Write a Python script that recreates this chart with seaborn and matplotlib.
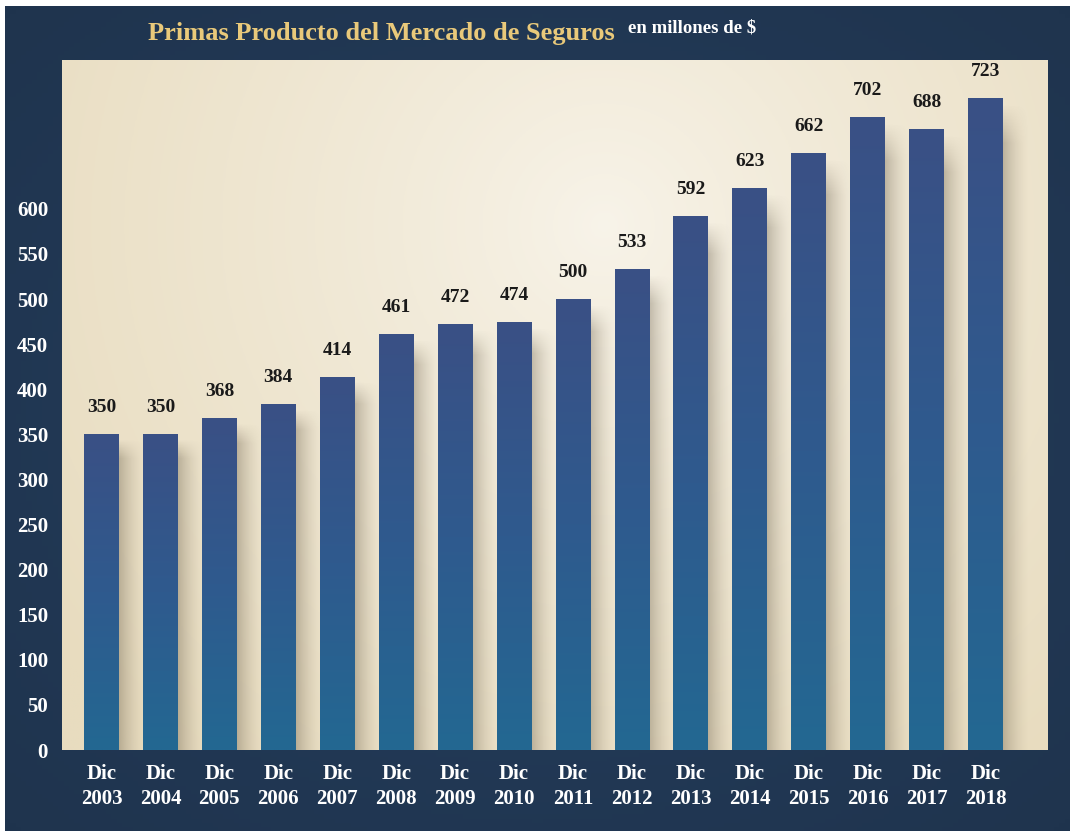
import numpy as np
import matplotlib
matplotlib.use("Agg")
import matplotlib.pyplot as plt
from matplotlib.colors import LinearSegmentedColormap
import seaborn as sns

# Data
years = ["2003", "2004", "2005", "2006", "2007", "2008", "2009", "2010",
         "2011", "2012", "2013", "2014", "2015", "2016", "2017", "2018"]
values = [350, 350, 368, 384, 414, 461, 472, 474, 500, 533, 592, 623, 662, 702, 688, 723]
tick_values = [0, 50, 100, 150, 200, 250, 300, 350, 400, 450, 500, 550, 600]
labels = ["Dic\n" + y for y in years]

sns.set_theme(style="white")
plt.rcParams["font.family"] = ["Liberation Serif", "DejaVu Serif"]
plt.rcParams["font.weight"] = "bold"

W, H = 1070, 831
fig = plt.figure(figsize=(W / 100, H / 100), dpi=100, facecolor="white")

# Navy background with a soft centre glow
bg = fig.add_axes([5 / W, 0, 1 - 5 / W, 1 - 6 / H])
bg.axis("off")
yy, xx = np.mgrid[0:1:200j, 0:1:200j]
r = np.sqrt((xx - 0.5) ** 2 + (yy - 0.5) ** 2) / 0.7
c_in = np.array([0x25, 0x3e, 0x5e]) / 255
c_out = np.array([0x1f, 0x34, 0x4e]) / 255
img = c_in[None, None, :] * (1 - r[..., None]) + c_out[None, None, :] * r[..., None]
bg.imshow(np.clip(img, 0, 1), extent=[0, 1, 0, 1], aspect="auto")
bg.set_xlim(0, 1)
bg.set_ylim(0, 1)

# Main axes
ax = fig.add_axes([62 / W, (H - 750) / H, 986 / W, 690 / H])

# Beige radial gradient for plot area
yy, xx = np.mgrid[1:0:300j, 0:1:300j]
r = np.sqrt(((xx - 0.55) * 1.43) ** 2 + (yy - 0.76) ** 2) / 1.0
r = np.clip(r, 0, 1) ** 0.8
c_in = np.array([0xf8, 0xf4, 0xea]) / 255
c_out = np.array([0xe8, 0xdc, 0xbf]) / 255
img = c_in[None, None, :] * (1 - r[..., None]) + c_out[None, None, :] * r[..., None]
ax.imshow(img, extent=[0, 1, 0, 1], transform=ax.transAxes, aspect="auto", zorder=0)

sns.barplot(x=labels, y=values, ax=ax, width=0.59, color="#2e5a8c",
            saturation=1, linewidth=0, zorder=3)

bar_cmap = LinearSegmentedColormap.from_list("bars", ["#236892", "#2f5a8e", "#3a5085"])
grad = np.linspace(0, 1, 256)[::-1].reshape(-1, 1)

# shadow: fades horizontally away from the bar and softly at the top
n_h, n_v = 64, 200
sx = np.linspace(1, 0, n_h) ** 1.6
sy = np.clip(np.linspace(0, 1, n_v) / 0.06, 0, 1)
shadow = np.zeros((n_v, n_h, 4))
shadow[..., 0] = 0.42
shadow[..., 1] = 0.38
shadow[..., 2] = 0.30
shadow[..., 3] = 0.38 * sy[:, None] * sx[None, :]

for patch, v in zip(ax.patches, values):
    x0 = patch.get_x()
    x1 = x0 + patch.get_width()
    h = patch.get_height()
    ax.imshow(shadow, extent=[x1, x1 + 0.45, 0, h - 6], aspect="auto",
              origin="upper", zorder=2)
    im = ax.imshow(grad, extent=[x0, x1, 0, h], aspect="auto", cmap=bar_cmap,
                   zorder=4)
    im.set_clip_path(patch)
    ax.annotate(f"{v}", (x0 + patch.get_width() / 2, h), xytext=(0, 13),
                textcoords="offset points", ha="center", va="bottom",
                fontsize=14, fontweight="bold", color="#1a1a1a", zorder=5)

ax.set_xlim(-0.67, 16.06)
ax.set_ylim(0, 765)
ax.set_yticks(tick_values)
ax.set_yticklabels([str(t) for t in tick_values])
ax.tick_params(axis="y", length=0, pad=10, labelsize=15, labelcolor="white")
ax.tick_params(axis="x", length=0, pad=10, labelsize=15, labelcolor="white")
for lab in ax.get_xticklabels() + ax.get_yticklabels():
    lab.set_fontweight("bold")
for lab in ax.get_xticklabels():
    lab.set_linespacing(1.35)
ax.set_xlabel("")
ax.set_ylabel("")
for s in ax.spines.values():
    s.set_visible(False)

fig.text(148 / W, 1 - 40 / H, "Primas Producto del Mercado de Seguros",
         color="#e9c97a", fontsize=19, fontweight="bold", va="baseline", ha="left")
fig.text(628 / W, 1 - 33 / H, "en millones de $", color="white",
         fontsize=13.5, fontweight="bold", va="baseline", ha="left")

fig.savefig("out.png", dpi=100, facecolor=fig.get_facecolor())
